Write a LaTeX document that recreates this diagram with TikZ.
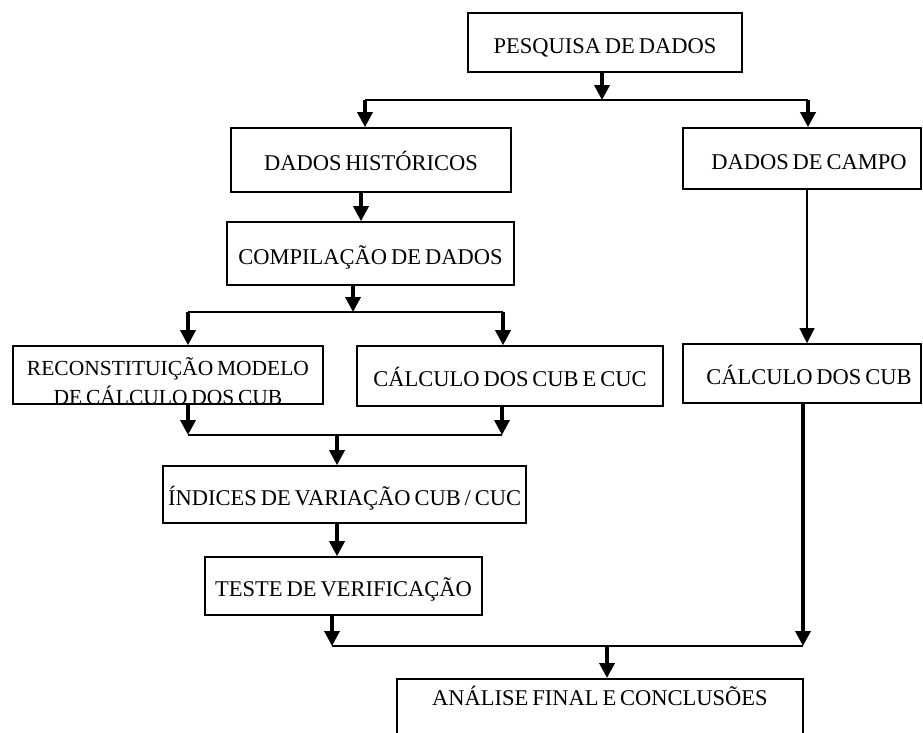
\documentclass[tikz,border=0pt]{standalone}
\usepackage{fontspec}
\setmainfont{Liberation Serif}[WordSpace=0.7]
\usetikzlibrary{arrows.meta}
\newcommand{\boxfont}{\fontsize{22.5}{29}\selectfont}
\newcommand{\smallboxfont}{\fontsize{21.5}{29}\selectfont}
\tikzset{
  box/.style={draw, line width=1.6pt, inner sep=0pt, font=\boxfont,
    text height=21pt, text depth=0pt},
  txt/.style={inner sep=0pt, font=\smallboxfont},
  conn/.style={line width=1.8pt},
  arr/.style={line width=3.5pt, -{Triangle[width=15pt,length=15pt]}},
  thinarr/.style={line width=1.2pt, -{Triangle[width=15pt,length=15pt]}},
}
\begin{document}
\begin{tikzpicture}[x=1pt,y=-1pt]
\clip (0,0) rectangle (923,732);

% boxes
\node[box, minimum width=274pt, minimum height=59pt] (pesq) at (605,42.5) {PESQUISA DE DADOS};
\node[box, minimum width=280pt, minimum height=64pt] (hist) at (371,160) {DADOS HISTÓRICOS};
\node[box, minimum width=238pt, minimum height=61pt] (campo) at (802,158.5) {\hspace*{14pt}DADOS DE CAMPO};
\node[box, minimum width=287pt, minimum height=63pt] (comp) at (370.5,253.5) {COMPILAÇÃO DE DADOS};
\node[box, minimum width=310pt, minimum height=58pt] (recon) at (168,375) {};
\node[txt, anchor=base] (recona) at (168,375.5) {RECONSTITUIÇÃO MODELO};
\node[txt, anchor=base] (reconb) at (168,404.5) {DE CÁLCULO DOS CUB};
\node[box, minimum width=306pt, minimum height=60pt] (cuc) at (510,376) {CÁLCULO DOS CUB E CUC};
\node[box, minimum width=238pt, minimum height=59pt] (calc) at (802,373.5) {\hspace*{14pt}CÁLCULO DOS CUB};
\node[box, anchor=east, inner xsep=5pt, minimum height=57pt] (ind) at (527,494.5) {ÍNDICES DE VARIAÇÃO CUB / CUC};
\node[box, minimum width=277pt, minimum height=58pt] (teste) at (343.5,586) {TESTE DE VERIFICAÇÃO};
\node[box, anchor=north, minimum width=406pt, inner ysep=12pt, text height=15pt, text depth=40pt] (anal) at (600,678) {ANÁLISE FINAL E CONCLUSÕES};

% junction points
\coordinate (ja) at (602,100);
\coordinate (jal) at (365,100);
\coordinate (jar) at (808,100);
\coordinate (jb) at (353,312);
\coordinate (jbl) at (188,312);
\coordinate (jbr) at (503,312);
\coordinate (jc) at (337,435);
\coordinate (jcl) at (188,435);
\coordinate (jcr) at (502,435);
\coordinate (jd) at (607,646);
\coordinate (jdl) at (332,646);
\coordinate (jdr) at (803,646);

% top split
\draw[arr] (pesq.south -| ja) -- (ja);
\draw[conn] (jal) -- (jar);
\draw[arr] (jal) -- (hist.north -| jal);
\draw[arr] (jar) -- (campo.north -| jar);

% historical branch
\draw[arr] (hist.south -| 361,0) -- (comp.north -| 361,0);
\draw[arr] (comp.south -| jb) -- (jb);
\draw[conn] (jbl) -- (jbr);
\draw[arr] (jbl) -- (recon.north -| jbl);
\draw[arr] (jbr) -- (cuc.north -| jbr);
\draw[arr] (recon.south -| jcl) -- (jcl);
\draw[arr] (cuc.south -| jcr) -- (jcr);
\draw[conn] (jcl) -- (jcr);
\draw[arr] (jc) -- (ind.north -| jc);
\draw[arr] (ind.south -| jc) -- (teste.north -| jc);
\draw[arr] (teste.south -| jdl) -- (jdl);

% field branch
\draw[thinarr] (campo.south -| 807,0) -- (calc.north -| 807,0);
\draw[arr] (calc.south -| jdr) -- (jdr);

% final merge
\draw[conn] (jdl) -- (jdr);
\draw[arr] (jd) -- (anal.north -| jd);
\end{tikzpicture}
\end{document}
